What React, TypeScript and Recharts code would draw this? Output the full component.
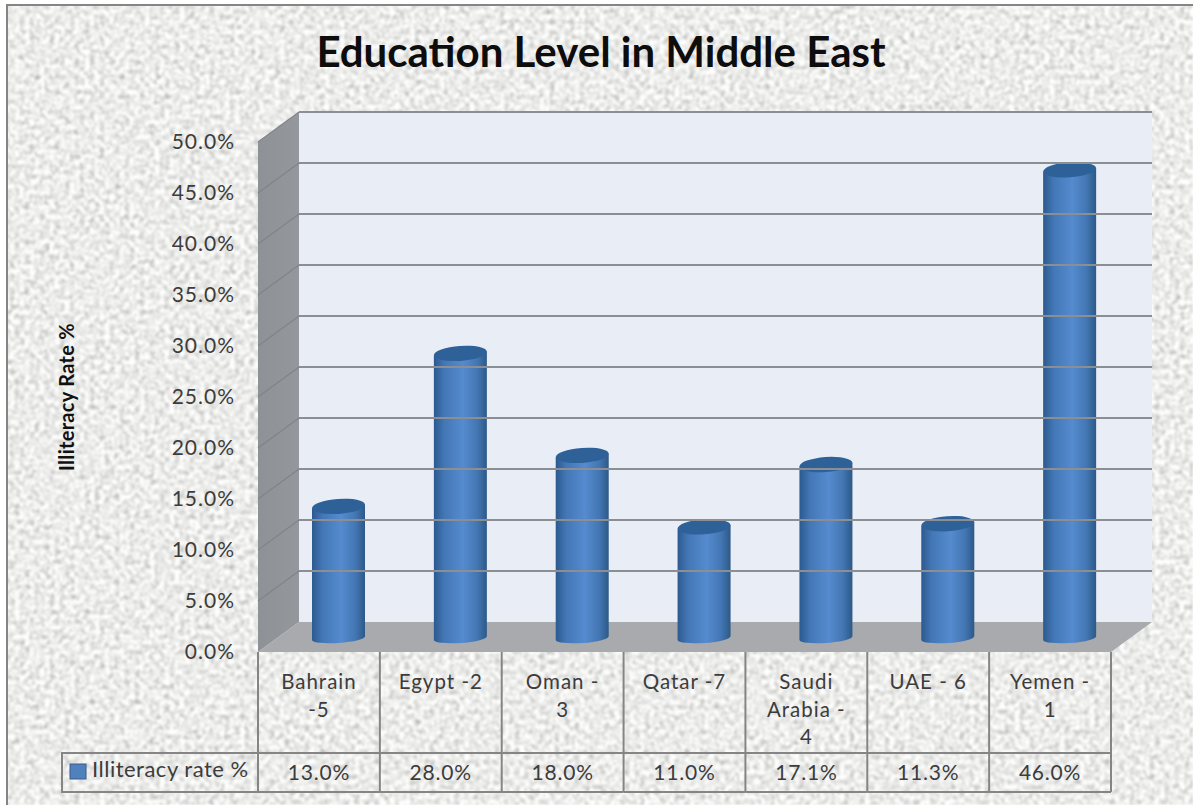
import { BarChart, Bar, XAxis, YAxis, ReferenceArea, ReferenceLine } from "recharts";

const categories = ["Bahrain\n-5", "Egypt -2", "Oman -\n3", "Qatar -7", "Saudi\nArabia -\n4", "UAE - 6", "Yemen -\n1"];
const illiteracyRate = [13.0, 28.0, 18.0, 11.0, 17.1, 11.3, 46.0];
const yTicks = [0, 5, 10, 15, 20, 25, 30, 35, 40, 45, 50];

const chartData = categories.map((name, i) => ({ name, rate: illiteracyRate[i] }));

const FONT = "Lato, 'Open Sans', sans-serif";
const TEXT = "#3c3c3c";
const LINE = "#858585";
// 3D depth of the back wall, and where the bars sit inside it
const DEPTH_X = 41;
const DEPTH_Y = 30;
const BAR_DX = 20;
const BAR_DY = 13;

function Walls(props: any) {
  const { x, y, width, height } = props;
  const b = y + height;
  const r = x + width;
  return (
    <g>
      <rect x={x + DEPTH_X} y={y - DEPTH_Y} width={width} height={height} fill="#e9edf5" />
      <path d={`M${x},${b} L${x},${y} L${x + DEPTH_X},${y - DEPTH_Y} L${x + DEPTH_X},${b - DEPTH_Y} Z`} fill="url(#sideWall)" />
      <path d={`M${x},${b} L${r},${b} L${r + DEPTH_X},${b - DEPTH_Y} L${x + DEPTH_X},${b - DEPTH_Y} Z`} fill="#a8aaad" />
    </g>
  );
}

function GridLine(props: any) {
  const { x1, x2, y1 } = props;
  return (
    <g>
      <path d={`M${x1},${y1} L${x1 + DEPTH_X},${y1 - DEPTH_Y}`} stroke="#80848a" strokeWidth={1.2} fill="none" />
      <path d={`M${x1 + DEPTH_X},${y1 - DEPTH_Y} L${x2 + DEPTH_X},${y1 - DEPTH_Y}`} stroke="#8b8e92" strokeWidth={2} fill="none" />
    </g>
  );
}

function Cylinder(props: any) {
  const { x, y, width, height } = props;
  const rx = width / 2;
  const ry = 7.5;
  const tilt = 1.9;
  const l = x + BAR_DX;
  const r = l + width;
  const top = y - BAR_DY;
  const bottom = top + height;
  return (
    <g>
      <path
        d={`M${l},${top + tilt} L${l},${bottom + tilt - 1} A${rx},5 -4 0 0 ${r},${bottom - tilt - 1} L${r},${top - tilt} Z`}
        fill="url(#barBody)"
      />
      <ellipse cx={l + rx} cy={top} rx={rx} ry={ry} transform={`rotate(-4 ${l + rx} ${top})`} fill="#2f6199" />
    </g>
  );
}

function TableTick(props: any) {
  const { x, y, payload, index, width, visibleTicksCount } = props;
  const cell = width / visibleTicksCount;
  const left = x - cell / 2;
  const lines = String(payload.value).split("\n");
  return (
    <g>
      <line x1={left} x2={left} y1={y} y2={y + 140} stroke={LINE} strokeWidth={2} />
      {index === visibleTicksCount - 1 && (
        <line x1={left + cell} x2={left + cell} y1={y} y2={y + 140} stroke={LINE} strokeWidth={2} />
      )}
      <line x1={left} x2={left + cell} y1={y + 101} y2={y + 101} stroke={LINE} strokeWidth={2} />
      <line x1={left} x2={left + cell} y1={y + 140} y2={y + 140} stroke={LINE} strokeWidth={2} />
      {index === 0 && (
        <g>
          <path d={`M${left},${y + 101} H${left - 196} V${y + 140} H${left}`} fill="none" stroke={LINE} strokeWidth={2} />
          <rect x={left - 188} y={y + 112} width={16} height={15} fill="#4f81bd" stroke="#385d8a" />
          <text x={left - 166} y={y + 125} fontSize={22} letterSpacing={0.5} fontFamily={FONT} fill={TEXT}>Illiteracy rate %</text>
        </g>
      )}
      <text textAnchor="middle" fontSize={20.5} letterSpacing={1} fontFamily={FONT} fill={TEXT}>
        {lines.map((t, i) => (
          <tspan key={i} x={x} y={y + 37 + i * 27.5}>{t}</tspan>
        ))}
      </text>
      <text x={x} y={y + 128} textAnchor="middle" fontSize={21} letterSpacing={0.8} fontFamily={FONT} fill={TEXT}>
        {illiteracyRate[index].toFixed(1)}%
      </text>
    </g>
  );
}

export default function App() {
  return (
    <div style={{ position: "absolute", left: 0, top: 0, width: 1193, height: 805, overflow: "hidden", background: "#fff" }}>
      <svg width={1193} height={805} style={{ position: "absolute", left: 0, top: 0 }}>
        <defs>
          <filter id="stone" x="0" y="0" width="100%" height="100%" colorInterpolationFilters="sRGB">
            <feTurbulence type="fractalNoise" baseFrequency="0.2" numOctaves={4} seed={7} />
            <feColorMatrix
              type="matrix"
              values="0.36 0.36 0 0 0.565  0.36 0.36 0 0 0.565  0.36 0.36 0 0 0.56  0 0 0 0 1"
            />
            <feGaussianBlur stdDeviation="0.8" />
          </filter>
        </defs>
        <rect x={7} y={5} width={1186} height={800} filter="url(#stone)" />
        <path d="M1193,5 H7 V805" fill="none" stroke="#858585" strokeWidth={2} />
      </svg>
      <div
        style={{
          position: "absolute",
          left: 0,
          top: 22,
          width: 1202,
          textAlign: "center",
          fontFamily: FONT,
          fontWeight: 700,
          fontSize: 42,
          lineHeight: "58px",
          color: "#0d0d0d",
        }}
      >
        Education Level in Middle East
      </div>
      <div style={{ position: "absolute", left: 0, top: 0 }}>
        <BarChart
          width={1193}
          height={805}
          data={chartData}
          margin={{ top: 142, right: 82, bottom: 0, left: 0 }}
          barCategoryGap={0}
        >
          <defs>
            <linearGradient id="barBody" x1="0" y1="0" x2="1" y2="0">
              <stop offset="0" stopColor="#2c5a8f" />
              <stop offset="0.2" stopColor="#4377b6" />
              <stop offset="0.55" stopColor="#558bcf" />
              <stop offset="0.82" stopColor="#4376b3" />
              <stop offset="1" stopColor="#2c5987" />
            </linearGradient>
            <linearGradient id="sideWall" x1="0" y1="0" x2="1" y2="0">
              <stop offset="0" stopColor="#8e9296" />
              <stop offset="1" stopColor="#94989c" />
            </linearGradient>
          </defs>
          <ReferenceArea y1={0} y2={50} shape={<Walls />} ifOverflow="visible" />
          {yTicks.filter((v) => v > 0).map((v) => (
            <ReferenceLine key={v} y={v} shape={(p: any) => <GridLine {...p} />} ifOverflow="visible" />
          ))}
          <XAxis dataKey="name" height={153} axisLine={false} tickLine={false} tickSize={0} tickMargin={0} interval={0} tick={<TableTick />} />
          <YAxis
            domain={[0, 50]}
            ticks={yTicks}
            width={258}
            axisLine={false}
            tickLine={false}
            tickSize={0}
            tickMargin={23}
            tickFormatter={(v: number) => `${v.toFixed(1)}%`}
            tick={{ fill: TEXT, fontSize: 21, letterSpacing: 1, fontFamily: FONT }}
            label={{
              value: "Illiteracy Rate %",
              angle: -90,
              position: "insideLeft",
              offset: 67,
              style: { textAnchor: "middle", fontFamily: FONT, fontWeight: 700, fontSize: 20, letterSpacing: 0.3, fill: "#111" },
            }}
          />
          <Bar dataKey="rate" barSize={53} shape={<Cylinder />} isAnimationActive={false} />
        </BarChart>
      </div>
    </div>
  );
}
